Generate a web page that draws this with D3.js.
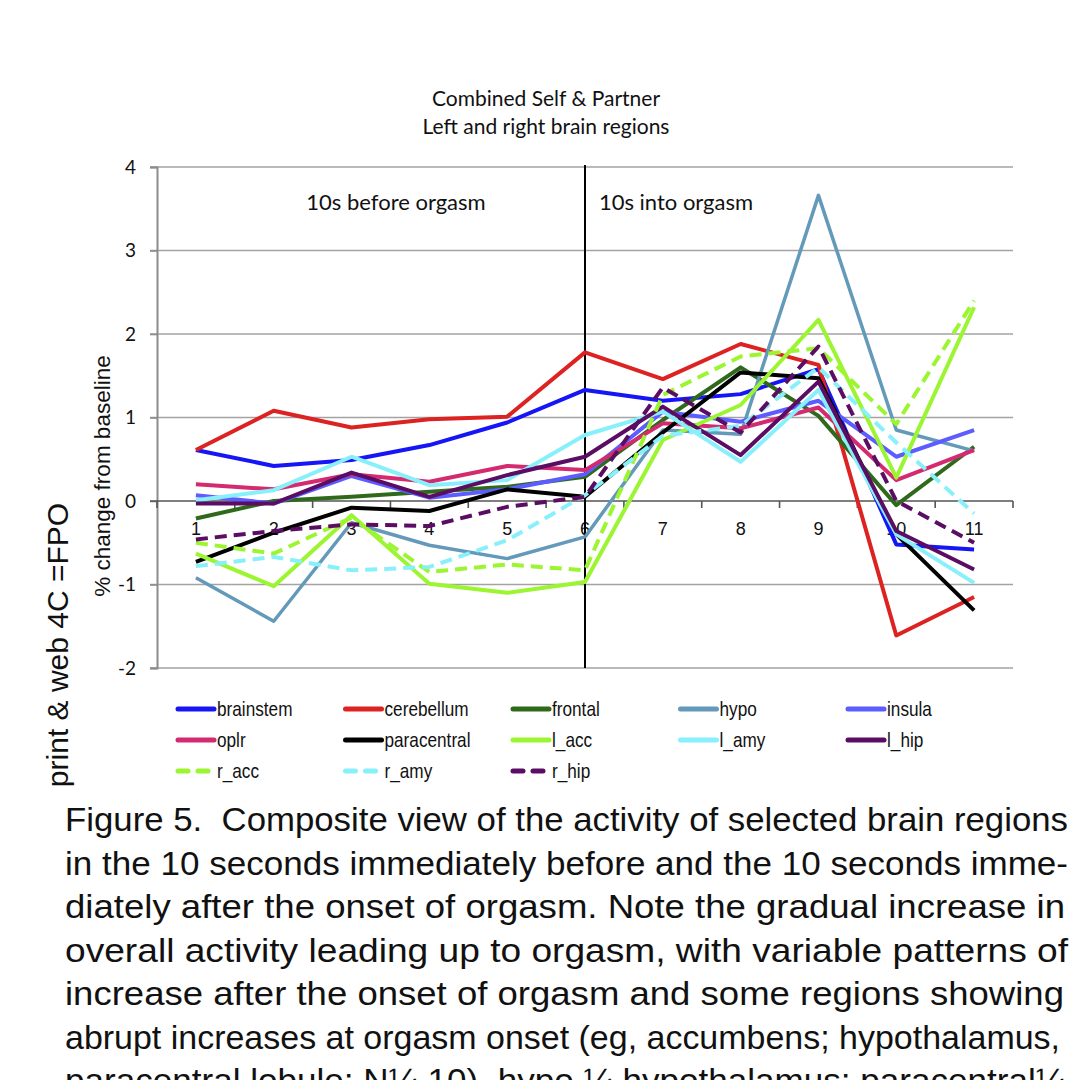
<!DOCTYPE html>
<html>
<head>
<meta charset="utf-8">
<script src="https://cdn.jsdelivr.net/npm/d3@7"></script>
<style>
  body { margin: 0; background: #fff; }
  svg { display: block; }
</style>
</head>
<body>
<script>
// data
let categories = ["1","2","3","4","5","6","7","8","9","10","11"];
let yTicks = [-2,-1,0,1,2,3,4];

let brainstem   = [0.61, 0.42, 0.49, 0.67, 0.94, 1.33, 1.20, 1.28, 1.58, -0.52, -0.58];
let cerebellum  = [0.61, 1.08, 0.88, 0.98, 1.01, 1.78, 1.46, 1.88, 1.63, -1.61, -1.15];
let frontal     = [-0.21, 0.00, 0.05, 0.11, 0.17, 0.29, 0.97, 1.60, 1.02, -0.05, 0.65];
let hypo        = [-0.92, -1.44, -0.26, -0.53, -0.69, -0.43, 0.85, 0.80, 3.66, 0.85, 0.60];
let insula      = [0.07, -0.03, 0.30, 0.04, 0.14, 0.32, 1.07, 0.95, 1.20, 0.53, 0.85];
let oplr        = [0.20, 0.14, 0.32, 0.23, 0.42, 0.37, 0.93, 0.87, 1.12, 0.25, 0.61];
let paracentral = [-0.73, -0.38, -0.08, -0.12, 0.14, 0.05, 0.82, 1.54, 1.47, -0.40, -1.31];
let l_acc       = [-0.63, -1.02, -0.17, -0.99, -1.10, -0.97, 0.73, 1.15, 2.17, 0.28, 2.32];
let l_amy       = [0.01, 0.13, 0.53, 0.19, 0.25, 0.79, 1.07, 0.47, 1.33, -0.40, -0.98];
let l_hip       = [-0.03, -0.03, 0.34, 0.05, 0.31, 0.53, 1.13, 0.55, 1.43, -0.36, -0.82];
let r_acc       = [-0.50, -0.63, -0.20, -0.85, -0.76, -0.83, 1.27, 1.73, 1.83, 0.92, 2.40];
let r_amy       = [-0.78, -0.67, -0.83, -0.79, -0.47, 0.07, 0.78, 0.90, 1.60, 0.70, -0.15];
let r_hip       = [-0.46, -0.36, -0.28, -0.30, -0.07, 0.05, 1.36, 0.82, 1.85, 0.00, -0.50];

let seriesNames = ["brainstem","cerebellum","frontal","hypo","insula","oplr","paracentral",
    "l_acc","l_amy","l_hip","r_acc","r_amy","r_hip"];
let seriesValues = [brainstem, cerebellum, frontal, hypo, insula, oplr, paracentral,
    l_acc, l_amy, l_hip, r_acc, r_amy, r_hip];
let seriesColors = ["#1515f5","#dd2222","#2f6a1c","#6399b9","#5c5cff","#d42a70","#000000",
    "#9cf531","#88f0fa","#5a0d63","#9cf531","#88f0fa","#5a0d63"];
let seriesDashed = [false,false,false,false,false,false,false,false,false,false,true,true,true];

let captionLines = [
    "Figure 5.\u00A0 Composite view of the activity of selected brain regions",
    "in the 10 seconds immediately before and the 10 seconds imme-",
    "diately after the onset of orgasm. Note the gradual increase in",
    "overall activity leading up to orgasm, with variable patterns of",
    "increase after the onset of orgasm and some regions showing",
    "abrupt increases at orgasm onset (eg, accumbens; hypothalamus,",
    "paracentral lobule; N\u00BC 10). hypo \u00BC hypothalamus; paracentral\u00BC"
];
let captionWidths = [1003, 1003, 1000, 1003, 999, 995, 1000];

let width = 1080, height = 1080;
let plot = {left:157, right:1013, top:167, bottom:668};

let svg = d3.select("body").append("svg")
    .attr("width", width)
    .attr("height", height);

let xBand = d3.scaleBand()
    .domain(categories)
    .range([plot.left, plot.right]);
let x = (c) => xBand(c) + xBand.bandwidth()/2;

let y = d3.scaleLinear()
    .domain([-2,4])
    .range([plot.bottom, plot.top]);

// gridlines
svg.append("g").selectAll("line")
    .data(yTicks.filter(d => d !== 0))
    .join("line")
    .attr("x1", plot.left - 7).attr("x2", plot.right)
    .attr("y1", d => y(d)).attr("y2", d => y(d))
    .attr("stroke", "#a3a3a3").attr("stroke-width", 1.6);

// y axis
let yAxis = d3.axisLeft(y).tickValues(yTicks).tickFormat(d => String(d)).tickSize(7).tickPadding(14);
let yG = svg.append("g")
    .attr("transform", `translate(${plot.left},0)`)
    .call(yAxis);
yG.select(".domain").attr("stroke", "#8c8c8c").attr("stroke-width", 2);
yG.selectAll(".tick line").attr("stroke", "#8c8c8c").attr("stroke-width", 1.6);
yG.selectAll(".tick text")
    .attr("font-family", "Lato, 'Open Sans', sans-serif")
    .attr("font-size", 19).attr("fill", "#111");

// x axis at zero with ticks between categories
let xG = svg.append("g").attr("transform", `translate(0,${y(0)})`);
xG.append("line")
    .attr("x1", plot.left - 7).attr("x2", plot.right)
    .attr("stroke", "#555").attr("stroke-width", 1.6);
xG.selectAll("line.tk")
    .data(categories.map(c => xBand(c)).concat([plot.right]))
    .join("line").attr("class", "tk")
    .attr("x1", d => d).attr("x2", d => d)
    .attr("y1", 0).attr("y2", 7)
    .attr("stroke", "#555").attr("stroke-width", 1.6);
xG.selectAll("text")
    .data(categories)
    .join("text")
    .attr("x", d => x(d))
    .attr("y", 34)
    .attr("text-anchor", "middle")
    .attr("font-family", "'Liberation Sans', Arial, sans-serif")
    .attr("font-size", 18)
    .attr("fill", "#111")
    .text(d => d);

// onset line at category 6
svg.append("line")
    .attr("x1", x("6")).attr("x2", x("6"))
    .attr("y1", plot.top - 2).attr("y2", plot.bottom)
    .attr("stroke", "#000").attr("stroke-width", 2);

// series lines
let lineGen = d3.line()
    .x((d,i) => x(categories[i]))
    .y(d => y(d));

svg.append("g").selectAll("path")
    .data(seriesValues)
    .join("path")
    .attr("d", d => lineGen(d))
    .attr("fill", "none")
    .attr("stroke", (d,i) => seriesColors[i])
    .attr("stroke-width", (d,i) => seriesNames[i] === "hypo" ? 3.5 : 4)
    .attr("stroke-dasharray", (d,i) => seriesDashed[i] ? "12,7" : null)
    .attr("stroke-linejoin", "round");

// titles
let title = svg.append("text")
    .attr("x", 546).attr("text-anchor", "middle")
    .attr("font-family", "Lato, 'Open Sans', sans-serif")
    .attr("font-size", 21).attr("fill", "#111");
title.append("tspan").attr("x", 546).attr("y", 106).text("Combined Self & Partner");
title.append("tspan").attr("x", 546).attr("y", 134).text("Left and right brain regions");

svg.append("text")
    .attr("x", 396).attr("y", 210).attr("text-anchor", "middle")
    .attr("font-family", "Lato, 'Open Sans', sans-serif")
    .attr("font-size", 22).attr("fill", "#111")
    .text("10s before orgasm");
svg.append("text")
    .attr("x", 676).attr("y", 210).attr("text-anchor", "middle")
    .attr("font-family", "Lato, 'Open Sans', sans-serif")
    .attr("font-size", 22).attr("fill", "#111")
    .text("10s into orgasm");

// y label
svg.append("text")
    .attr("transform", "translate(110,476) rotate(-90)")
    .attr("text-anchor", "middle")
    .attr("font-family", "'Liberation Sans', Arial, sans-serif")
    .attr("font-size", 22.5).attr("fill", "#111")
    .text("% change from baseline");

// side note
svg.append("text")
    .attr("transform", "translate(68,645) rotate(-90)")
    .attr("text-anchor", "middle")
    .attr("font-family", "'Liberation Sans', Arial, sans-serif")
    .attr("font-size", 30).attr("fill", "#111")
    .text("print & web 4C =FPO");

// legend
let legend = svg.append("g");
let items = legend.selectAll("g")
    .data(seriesNames)
    .join("g")
    .attr("transform", (d,i) => `translate(${178 + (i % 5) * 167.5},${709 + Math.floor(i / 5) * 31})`);
items.append("line")
    .attr("x1", 0).attr("x2", 36)
    .attr("stroke", (d,i) => seriesColors[i])
    .attr("stroke-width", 5)
    .attr("stroke-linecap", "round")
    .attr("stroke-dasharray", (d,i) => seriesDashed[i] ? "10,10" : null);
items.append("text")
    .attr("transform", "translate(39,7) scale(0.86,1)")
    .attr("font-family", "'Liberation Sans', Arial, sans-serif")
    .attr("font-size", 20).attr("fill", "#111")
    .text(d => d);

// caption
svg.append("g").selectAll("text")
    .data(captionLines)
    .join("text")
    .attr("x", 65)
    .attr("y", (d,i) => 831 + i * 43.5)
    .attr("textLength", (d,i) => captionWidths[i])
    .attr("lengthAdjust", "spacingAndGlyphs")
    .attr("font-family", "'Liberation Sans', Arial, sans-serif")
    .attr("font-size", 33).attr("fill", "#111")
    .text(d => d);
</script>
</body>
</html>
